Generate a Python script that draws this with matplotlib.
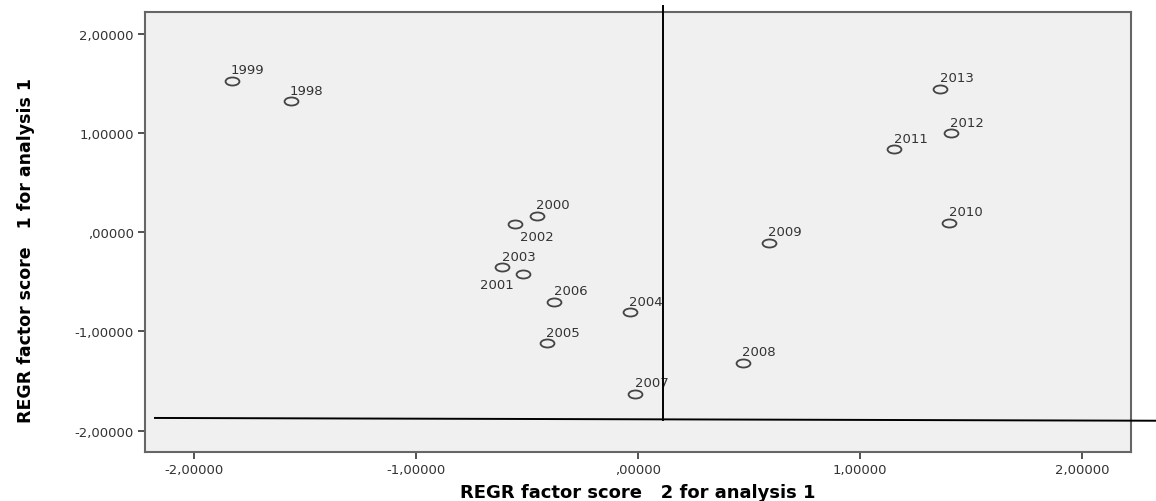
import matplotlib
matplotlib.use("Agg")
import matplotlib.pyplot as plt
from matplotlib.path import Path
from matplotlib.transforms import Affine2D
import numpy as np

# ---- data ----
years = ["1999", "1998", "2000", "2002", "2003", "2001", "2006", "2004",
         "2005", "2007", "2008", "2009", "2013", "2012", "2011", "2010"]
factor2 = [-1.830, -1.564, -0.455, -0.554, -0.611, -0.517, -0.377, -0.037,
           -0.410, -0.012, 0.472, 0.590, 1.362, 1.408, 1.155, 1.402]
factor1 = [1.525, 1.317, 0.165, 0.082, -0.355, -0.422, -0.701, -0.808,
           -1.120, -1.630, -1.318, -0.107, 1.441, 0.995, 0.834, 0.092]
xticks = [-2.0, -1.0, 0.0, 1.0, 2.0]
yticks = [-2.0, -1.0, 0.0, 1.0, 2.0]
xticklabels = ["-2,00000", "-1,00000", ",00000", "1,00000", "2,00000"]
yticklabels = ["-2,00000", "-1,00000", ",00000", "1,00000", "2,00000"]
vline_x = 0.113
hline_y_left, hline_y_right = -1.872, -1.900

# ---- figure ----
fig = plt.figure(figsize=(11.56, 5.02), dpi=100)
ax = fig.add_axes([145 / 1156, 49 / 502, 986 / 1156, 440 / 502])
ax.set_facecolor("#f0f0f0")
ax.set_xlim(-2.22, 2.22)
ax.set_ylim(-2.215, 2.217)

ell = Path.unit_circle().transformed(Affine2D().scale(1.0, 0.58))
ax.plot(factor2, factor1, linestyle="none", marker=ell, markersize=10,
        markerfacecolor="none", markeredgecolor="#444444", markeredgewidth=1.3)

special = {"2002": ((3.6, -4.5), "left", "top"),
           "2001": ((-7, -3.0), "right", "top")}
for yr, x, y in zip(years, factor2, factor1):
    off, ha, va = special.get(yr, ((-0.5, 5.5), "left", "baseline"))
    ax.annotate(yr, (x, y), xytext=off, textcoords="offset points",
                ha=ha, va=va, fontsize=9.5, color="#333333",
                family="DejaVu Sans")

# reference lines
ax.plot([vline_x, vline_x], [-1.89, 2.28], color="black", lw=1.4,
        clip_on=False, zorder=5)
ax.plot([-2.175, 2.333], [hline_y_left, hline_y_right], color="black",
        lw=1.4, clip_on=False, zorder=5)

ax.set_xticks(xticks)
ax.set_xticklabels(xticklabels)
ax.set_yticks(yticks)
ax.set_yticklabels(yticklabels)
ax.tick_params(direction="out", length=5, width=1.3, color="#444444",
               labelcolor="#333333", labelsize=9.5, pad=3)
for lab in ax.get_xticklabels() + ax.get_yticklabels():
    lab.set_family("DejaVu Sans")
for s in ax.spines.values():
    s.set_color("#666666")
    s.set_linewidth(1.5)

ax.set_xlabel("REGR factor score   2 for analysis 1", fontsize=13,
              fontweight="bold", family="DejaVu Sans", labelpad=5)
ax.set_ylabel("REGR factor score   1 for analysis 1", fontsize=12.5,
              fontweight="bold", family="DejaVu Sans", labelpad=12)
ax.yaxis.set_label_coords(-110 / 986, 0.46)

fig.savefig("out.png", dpi=100)
